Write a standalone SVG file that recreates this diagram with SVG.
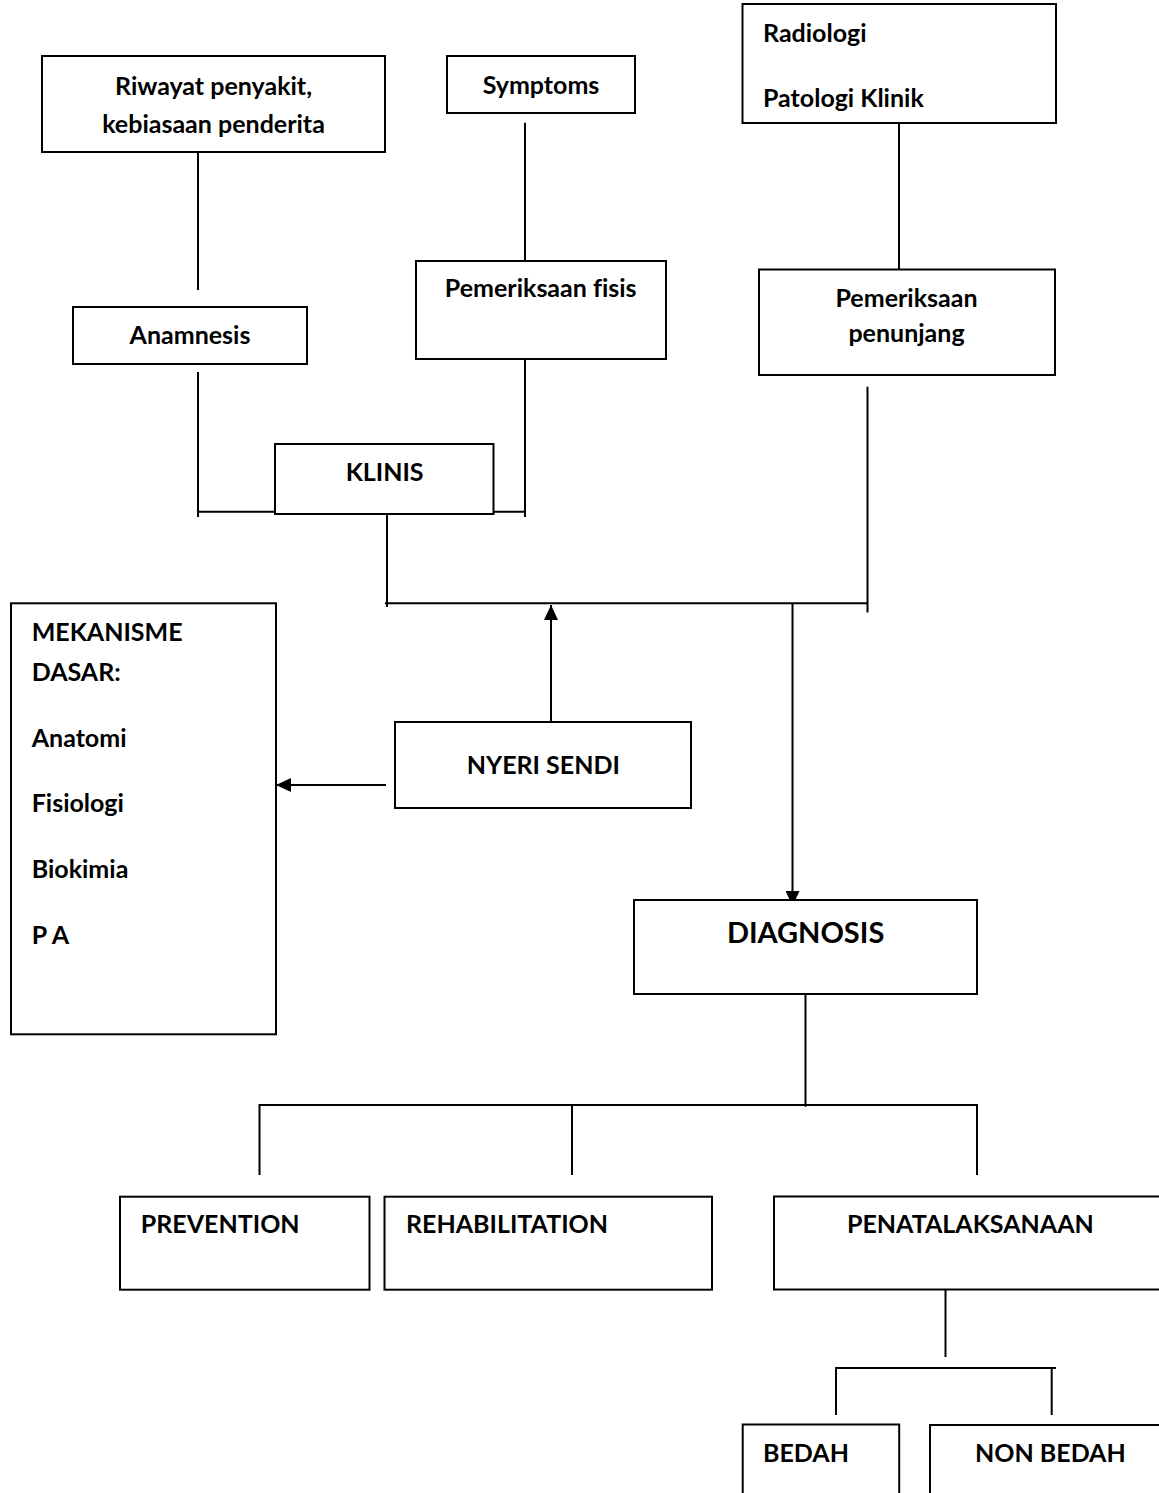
<svg xmlns="http://www.w3.org/2000/svg" width="1159" height="1493" viewBox="0 0 1159 1493">
<style>
.box{fill:#fff;stroke:#000;stroke-width:2}
.ln{fill:none;stroke:#000;stroke-width:2}
text{font-family:Lato,"Liberation Sans",sans-serif;font-weight:bold;font-size:25px;fill:#000;font-variant-ligatures:none}
.c{text-anchor:middle}
.big{font-size:29px}
</style>
<defs>
<marker id="ah" markerUnits="userSpaceOnUse" markerWidth="15" markerHeight="14" refX="15" refY="7" orient="auto">
<path d="M0,0 L15,7 L0,14 z" fill="#000"/>
</marker>
</defs>
<rect width="1159" height="1493" fill="#fff"/>
<g id="connectors">
<path class="ln" d="M198,148 V290"/>
<path class="ln" d="M525,122.7 V266.7"/>
<path class="ln" d="M899,123 V276.7"/>
<path class="ln" d="M198,372 V517 M198,511.7 H275"/>
<path class="ln" d="M525,360 V517 M493.5,511.7 H525"/>
<path class="ln" d="M387,512 V607 M385,603.3 H868"/>
<path class="ln" d="M867.5,386.7 V612.5"/>
<path class="ln" d="M792.5,603 V906" marker-end="url(#ah)"/>
<path class="ln" d="M551,728 V605" marker-end="url(#ah)"/>
<path class="ln" d="M386,785 H276" marker-end="url(#ah)"/>
<path class="ln" d="M805.5,993 V1106.7 M259.5,1105 H977 M259.5,1104 V1175 M572,1105 V1175 M977,1104 V1175"/>
<path class="ln" d="M945.5,1286 V1357 M836,1368 H1056 M836,1367 V1415 M1051.7,1367 V1415"/>
</g>
<g id="riwayat"><rect class="box" x="42" y="56" width="343" height="96"/>
<text class="c" x="213.5" y="95">Riwayat penyakit,</text>
<text class="c" x="213.5" y="133.3">kebiasaan penderita</text></g>
<g id="symptoms"><rect class="box" x="447" y="56" width="188" height="57"/>
<text class="c" x="541" y="94.3">Symptoms</text></g>
<g id="radiologi"><rect class="box" x="742.5" y="4" width="313.5" height="119"/>
<text x="763" y="41.7">Radiologi</text>
<text x="763" y="107.3">Patologi Klinik</text></g>
<g id="anamnesis"><rect class="box" x="73" y="307" width="234" height="57"/>
<text class="c" x="190" y="344">Anamnesis</text></g>
<g id="pemeriksaan-fisis"><rect class="box" x="416" y="261" width="250" height="98"/>
<text class="c" x="540.7" y="296.7">Pemeriksaan fisis</text></g>
<g id="pemeriksaan-penunjang"><rect class="box" x="759" y="269.5" width="296" height="105.5"/>
<text class="c" x="906.5" y="306.7">Pemeriksaan</text>
<text class="c" x="906.5" y="341.7">penunjang</text></g>
<g id="klinis"><rect class="box" x="275" y="444" width="218.5" height="70"/>
<text class="c" x="384.6" y="481">KLINIS</text></g>
<g id="mekanisme"><rect class="box" x="11" y="603.3" width="265" height="431"/>
<text x="31.7" y="640.7">MEKANISME</text>
<text x="31.7" y="680.7">DASAR:</text>
<text x="31.7" y="746.7">Anatomi</text>
<text x="31.7" y="811.7">Fisiologi</text>
<text x="31.7" y="878.3">Biokimia</text>
<text x="31.7" y="944.3">P A</text></g>
<g id="nyeri-sendi"><rect class="box" x="395" y="722" width="296" height="86"/>
<text class="c" x="543.3" y="774.3">NYERI SENDI</text></g>
<g id="diagnosis"><rect class="box" x="634" y="900" width="343" height="94"/>
<text class="c big" x="805.6" y="942.7">DIAGNOSIS</text></g>
<g id="prevention"><rect class="box" x="120" y="1196.7" width="249.5" height="93"/>
<text x="140.8" y="1233.3">PREVENTION</text></g>
<g id="rehabilitation"><rect class="box" x="384.5" y="1196.7" width="327.5" height="93"/>
<text x="406" y="1233.3">REHABILITATION</text></g>
<g id="penatalaksanaan"><rect class="box" x="774" y="1196.5" width="400" height="93"/>
<text x="847" y="1233.3">PENATALAKSANAAN</text></g>
<g id="bedah"><rect class="box" x="742.7" y="1424.5" width="156.5" height="100"/>
<text x="763" y="1462">BEDAH</text></g>
<g id="non-bedah"><rect class="box" x="930" y="1425" width="300" height="100"/>
<text x="975" y="1462">NON BEDAH</text></g>
</svg>
